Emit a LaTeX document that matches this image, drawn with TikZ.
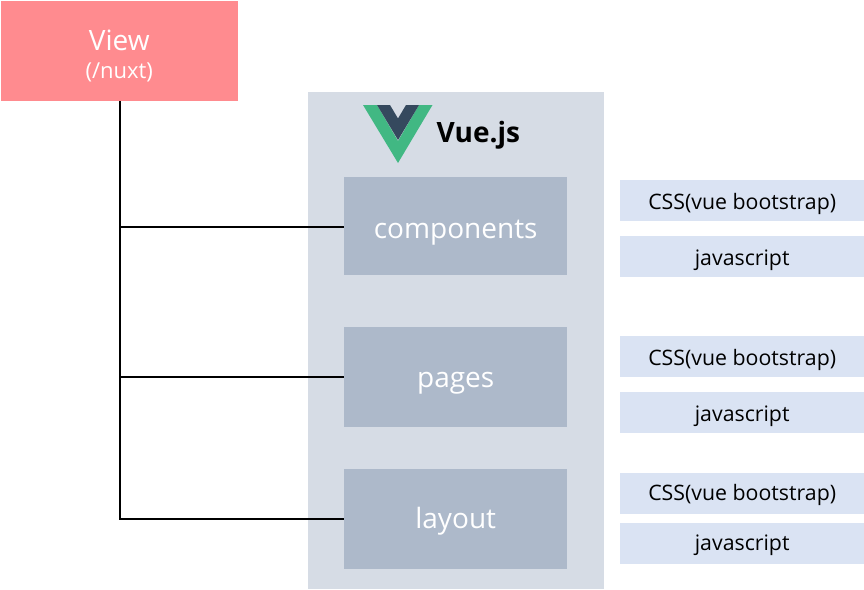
\documentclass[tikz,border=0pt]{standalone}
\usepackage{fontspec}
\setmainfont{Open Sans}
\definecolor{viewred}{HTML}{FF8B8F}
\definecolor{panel}{HTML}{D6DCE5}
\definecolor{block}{HTML}{ADB9CA}
\definecolor{side}{HTML}{DAE3F3}
\definecolor{vuegreen}{HTML}{41B883}
\definecolor{vuedark}{HTML}{35495E}
\tikzset{
  box/.style={draw=none,minimum width=#1,inner sep=0pt,anchor=north west},
  viewbox/.style={box=237pt,fill=viewred,text=white,minimum height=100pt,align=center},
  blockbox/.style={box=223pt,fill=block,text=white,font=\fontsize{28}{32}\selectfont,minimum height=100pt,text height=24pt,text depth=0pt},
  sidebox/.style={box=244pt,fill=side,text=black,font=\fontsize{21.3}{26}\selectfont,minimum height=41.5pt,text height=19pt,text depth=0pt},
  wire/.style={draw=black,line width=2pt}
}
\begin{document}
\begin{tikzpicture}[x=1pt,y=-1pt]
\useasboundingbox (0,0) rectangle (864,589);
\fill[white] (0,0) rectangle (864,589);
\node[viewbox] (view) at (0.5,0.5) {\rule{0pt}{31pt}\fontsize{28}{28}\selectfont View\\[11pt]\fontsize{22}{28}\selectfont (/nuxt)};
\fill[panel] (308,92) rectangle (604,589);
% Vue logo
\fill[vuegreen] (363,105) -- (377,105) -- (398,141) -- (419,105) -- (432.5,105) -- (398,163) -- cycle;
\fill[vuedark] (377,105) -- (390,105) -- (398,118.5) -- (406,105) -- (419,105) -- (398,140) -- cycle;
\node[inner sep=0pt,anchor=base west,font=\bfseries\fontsize{28}{32}\selectfont] (vuejs) at (436.5,142) {Vue.js};
\node[blockbox,minimum height=98pt] (components) at (344,177) {components};
\node[blockbox,text height=20pt] (pages) at (344,327) {pages};
\node[blockbox,text height=20pt] (layout) at (344,468.5) {layout};
\node[sidebox] (c1) at (620,179.5) {CSS(vue bootstrap)};
\node[sidebox] (c2) at (620,235.5) {javascript};
\node[sidebox] (p1) at (620,335.5) {CSS(vue bootstrap)};
\node[sidebox] (p2) at (620,391.5) {javascript};
\node[sidebox,text height=14pt] (l1) at (620,472.5) {CSS(vue bootstrap)};
\node[sidebox,text height=15pt] (l2) at (620,522.3) {javascript};
\coordinate (trunk) at (120,0);
\coordinate (cjoin) at ([yshift=-0.7pt]components.west);
\coordinate (ljoin) at ([yshift=-1pt]trunk |- layout.west);
\draw[wire,line width=2.5pt] ([yshift=-0.5pt]view.south -| trunk) -- (ljoin);
\draw[wire] (trunk |- layout.west) -- (layout.west);
\draw[wire] (trunk |- cjoin) -- (cjoin);
\draw[wire] (trunk |- pages.west) -- (pages.west);
\end{tikzpicture}
\end{document}
